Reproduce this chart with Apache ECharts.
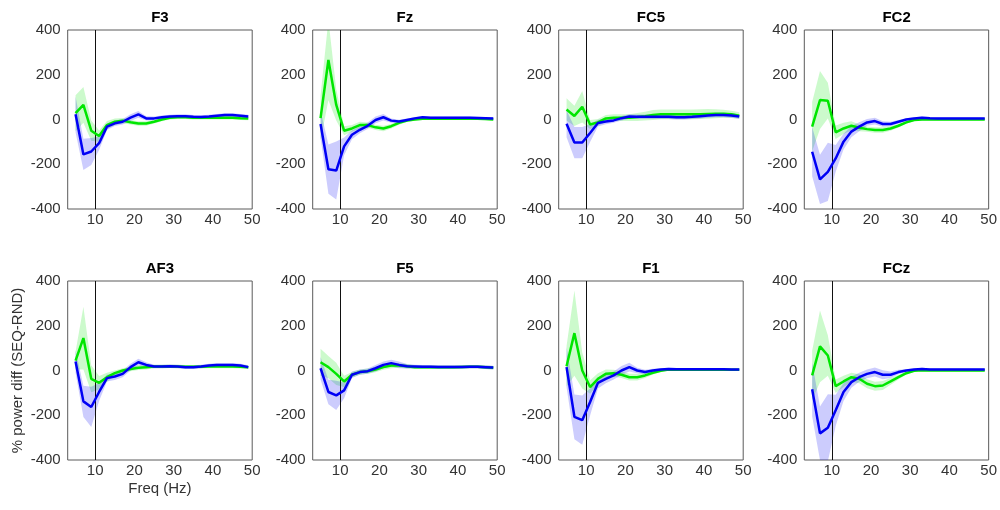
<!DOCTYPE html>
<html>
<head>
<meta charset="utf-8">
<script src="https://cdn.jsdelivr.net/npm/echarts@6/dist/echarts.min.js"></script>
<style>
html,body{margin:0;padding:0;background:#fff;}
#chart{width:1000px;height:510px;}
</style>
</head>
<body>
<div id="chart"></div>
<script>
// Frequencies (Hz)
const freqs = [5,7,9,11,13,15,17,19,21,23,25,27,29,31,33,35,37,39,41,43,45,47,49];
const xTickLabels = [10,20,30,40,50];
const yTickLabels = [-400,-200,0,200,400];
const channels = ['F3','Fz','FC5','FC2','AF3','F5','F1','FCz'];

// Green / blue means and half-widths of shaded bands
const F3_green     = [28,65,-50,-74,-25,-10,-5,-12,-18,-18,-10,0,8,10,10,8,8,8,8,8,8,6,5];
const F3_greenErr  = [80,80,45,25,18,15,12,10,10,10,8,8,8,8,8,8,8,8,8,8,8,8,8];
const F3_blue      = [23,-156,-143,-106,-32,-17,-10,8,23,5,5,10,13,15,15,12,11,13,17,20,20,17,13];
const F3_blueErr   = [80,70,60,30,15,12,12,15,15,10,8,8,8,8,8,8,8,8,8,8,8,8,8];

const Fz_green     = [6,266,65,-50,-40,-25,-25,-35,-40,-30,-15,-5,0,3,3,3,3,3,3,3,3,2,0];
const Fz_greenErr  = [100,180,70,20,15,15,12,12,12,10,8,6,6,5,5,5,5,5,5,5,5,5,5];
const Fz_blue      = [-20,-222,-228,-120,-68,-46,-28,-2,10,-5,-9,-2,5,10,8,8,8,8,8,8,7,6,5];
const Fz_blueErr   = [60,110,130,40,20,15,15,15,15,10,8,6,6,5,5,5,5,5,5,5,5,5,5];

const FC5_green    = [45,16,57,-22,-13,5,8,8,8,11,15,20,23,23,23,23,23,24,25,26,26,23,17];
const FC5_greenErr = [50,45,70,20,15,15,15,15,15,18,20,22,22,22,22,22,22,22,22,20,18,16,15];
const FC5_blue     = [-19,-103,-103,-60,-16,-9,-4,6,13,12,12,12,12,12,10,10,12,15,18,20,20,18,13];
const FC5_blueErr  = [60,70,70,40,15,12,10,10,10,10,10,10,10,10,10,10,10,10,10,10,10,10,10];

const FC2_green    = [-32,87,84,-57,-40,-28,-37,-43,-47,-47,-40,-28,-13,-2,0,0,0,0,0,0,0,0,0];
const FC2_greenErr = [110,130,80,30,25,20,15,12,12,12,10,8,6,5,5,5,5,5,5,5,5,5,5];
const FC2_blue     = [-144,-268,-234,-174,-99,-54,-32,-13,-7,-20,-20,-10,0,5,8,6,5,5,5,5,5,5,4];
const FC2_blueErr  = [110,110,130,60,35,25,20,15,15,12,10,8,6,5,5,5,5,5,5,5,5,5,5];

const AF3_green    = [44,145,-37,-55,-30,-12,0,7,12,15,18,18,19,18,17,17,17,18,18,18,18,17,15];
const AF3_greenErr = [40,140,60,30,20,12,10,10,10,10,8,8,8,8,8,8,8,8,8,8,8,8,8];
const AF3_blue     = [40,-138,-163,-96,-34,-27,-15,15,37,25,18,18,19,18,15,15,18,22,25,25,25,22,15];
const AF3_blueErr  = [50,70,90,40,15,15,15,15,15,12,8,8,8,8,8,8,8,8,8,8,8,8,8];

const F5_green     = [37,15,-15,-49,-19,-7,-3,4,15,22,22,19,15,15,15,15,15,15,16,17,17,15,12];
const F5_greenErr  = [60,50,50,25,12,12,12,12,12,12,10,10,8,8,8,8,8,8,8,8,8,8,8];
const F5_blue      = [10,-96,-111,-89,-19,-7,-3,10,25,33,25,19,18,17,17,16,16,16,16,17,17,15,13];
const F5_blueErr   = [50,55,65,35,15,12,12,15,15,15,15,10,8,8,8,8,8,8,8,8,8,8,8];

const F1_green     = [19,167,0,-74,-37,-15,-12,-19,-30,-30,-22,-10,-1,4,3,3,3,3,3,3,3,3,3];
const F1_greenErr  = [90,190,80,30,25,20,15,15,15,15,12,8,6,5,5,5,5,5,5,5,5,5,5];
const F1_blue      = [15,-207,-222,-141,-55,-37,-22,0,15,0,-7,0,4,7,6,6,6,6,6,6,6,5,4];
const F1_blueErr   = [90,100,110,60,25,20,18,20,20,12,10,8,6,5,5,5,5,5,5,5,5,5,5];

const FCz_green    = [-22,108,67,-70,-49,-30,-37,-59,-70,-67,-49,-30,-12,-1,1,0,0,0,0,0,0,0,0];
const FCz_greenErr = [110,160,90,30,25,20,20,20,20,20,15,10,6,5,5,5,5,5,5,5,5,5,5];
const FCz_blue     = [-84,-281,-256,-178,-96,-52,-30,-15,-7,-19,-19,-7,0,4,7,5,5,5,5,5,5,5,4];
const FCz_blueErr  = [120,120,150,70,40,25,20,20,20,20,15,10,6,5,5,5,5,5,5,5,5,5,5];

const panelData = [
  [F3_green, F3_greenErr, F3_blue, F3_blueErr],
  [Fz_green, Fz_greenErr, Fz_blue, Fz_blueErr],
  [FC5_green, FC5_greenErr, FC5_blue, FC5_blueErr],
  [FC2_green, FC2_greenErr, FC2_blue, FC2_blueErr],
  [AF3_green, AF3_greenErr, AF3_blue, AF3_blueErr],
  [F5_green, F5_greenErr, F5_blue, F5_blueErr],
  [F1_green, F1_greenErr, F1_blue, F1_blueErr],
  [FCz_green, FCz_greenErr, FCz_blue, FCz_blueErr]
];

const FONT = 'Liberation Sans, Arial, Helvetica, sans-serif';
const lefts = [67.7, 312.7, 558.7, 804.3];
const tops = [30, 281];
const W = 184.5, H = 179;

const grids = [], xAxes = [], yAxes = [], titles = [], series = [];
const GREEN = '#00e600', BLUE = '#0000f5';
const GREEN_FILL = 'rgba(0,230,0,0.2)', BLUE_FILL = 'rgba(0,0,245,0.2)';

function bandSeries(i, mean, err, fill, withLine) {
  const data = freqs.map((f, j) => [f, mean[j] - err[j], mean[j] + err[j]]);
  const s = {
    type: 'custom', xAxisIndex: i, yAxisIndex: i, silent: true, z: 1,
    encode: {x: 0, y: [1, 2]},
    data: data,
    renderItem: function (params, api) {
      if (params.dataIndex !== 0) return null;
      const up = data.map(d => api.coord([d[0], d[2]]));
      const lo = data.map(d => api.coord([d[0], d[1]])).reverse();
      const cs = params.coordSys;
      return {
        type: 'polygon',
        shape: {points: up.concat(lo)},
        style: {fill: fill, stroke: null},
        clipPath: {type: 'rect', shape: {x: cs.x, y: cs.y, width: cs.width, height: cs.height}}
      };
    }
  };
  return s;
}

channels.forEach((name, i) => {
  const row = Math.floor(i / 4), col = i % 4;
  grids.push({left: lefts[col], top: tops[row], width: W, height: H,
    show: true, borderColor: '#5a5a5a', borderWidth: 1, backgroundColor: '#fff'});
  titles.push({text: name, left: lefts[col] + W / 2, top: tops[row] - 19.5, textAlign: 'center', padding: 0,
    textStyle: {fontFamily: FONT, fontSize: 15, fontWeight: 'bold', color: '#000'}});
  const xa = {gridIndex: i, type: 'value', min: 3, max: 50,
    axisLine: {show: false}, axisTick: {show: false}, splitLine: {show: false},
    axisLabel: {customValues: xTickLabels, margin: 3, fontFamily: FONT, fontSize: 15, color: '#333'}};
  const ya = {gridIndex: i, type: 'value', min: -400, max: 400, interval: 200,
    axisLine: {show: false}, axisTick: {show: false}, splitLine: {show: false},
    axisLabel: {customValues: yTickLabels, margin: 7, fontFamily: FONT, fontSize: 15, color: '#333'}};
  if (i === 4) {
    xa.name = 'Freq (Hz)'; xa.nameLocation = 'middle'; xa.nameGap = 21;
    xa.nameTextStyle = {fontFamily: FONT, fontSize: 15, color: '#333'};
    ya.name = '% power diff (SEQ-RND)'; ya.nameLocation = 'middle'; ya.nameGap = 42;
    ya.nameTextStyle = {fontFamily: FONT, fontSize: 15, color: '#333'};
  }
  xAxes.push(xa); yAxes.push(ya);

  const [g, gE, b, bE] = panelData[i];
  series.push(bandSeries(i, g, gE, GREEN_FILL));
  series.push(bandSeries(i, b, bE, BLUE_FILL));
  series.push({type: 'line', xAxisIndex: i, yAxisIndex: i, symbol: 'none', silent: true,
    lineStyle: {color: GREEN, width: 2.5}, data: freqs.map((f, j) => [f, g[j]]), z: 3,
    markLine: {silent: true, symbol: 'none', label: {show: false}, z: 2,
      lineStyle: {color: '#111', width: 1, type: 'solid'}, data: [{xAxis: 10}]}});
  series.push({type: 'line', xAxisIndex: i, yAxisIndex: i, symbol: 'none', silent: true,
    lineStyle: {color: BLUE, width: 2.5}, data: freqs.map((f, j) => [f, b[j]]), z: 4});
});

const chart = echarts.init(document.getElementById('chart'), null, {renderer: 'canvas'});
chart.setOption({
  animation: false,
  backgroundColor: '#fff',
  title: titles,
  grid: grids,
  xAxis: xAxes,
  yAxis: yAxes,
  series: series
});
</script>
</body>
</html>
